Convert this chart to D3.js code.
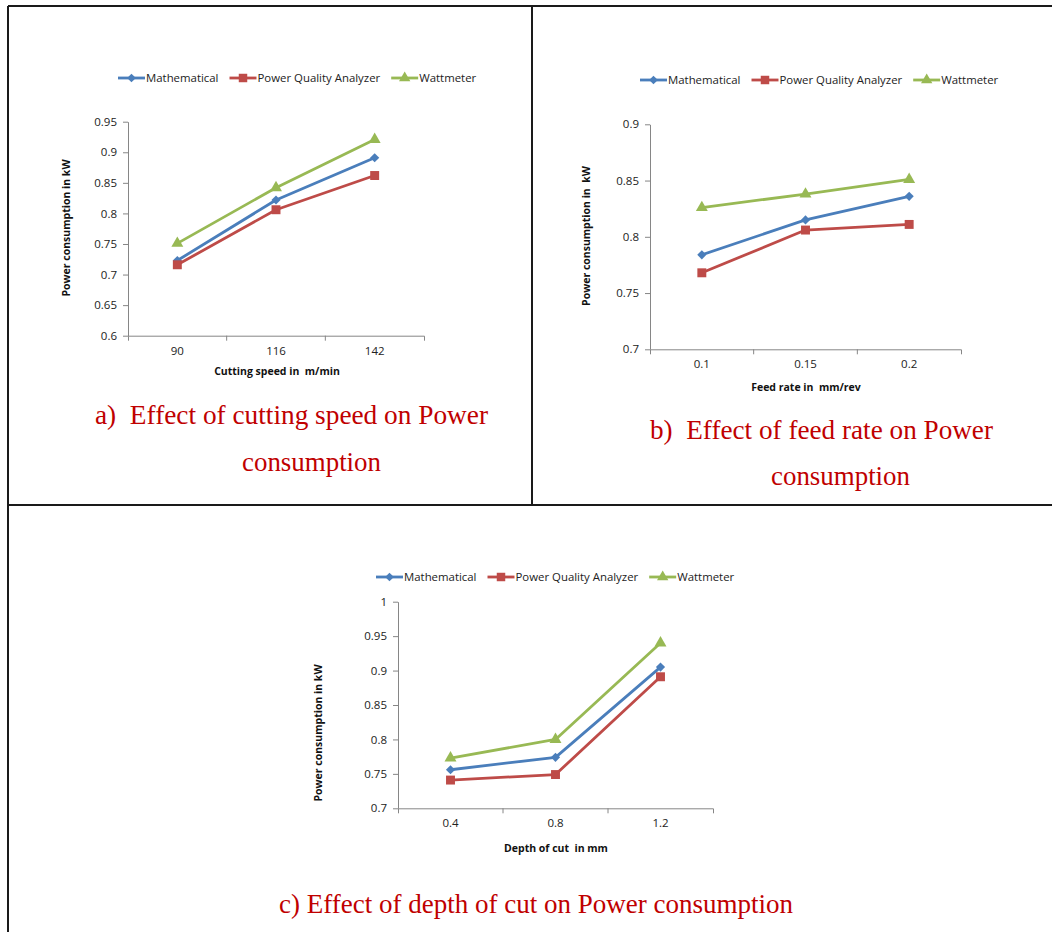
<!DOCTYPE html>
<html><head><meta charset="utf-8">
<script src="https://cdn.jsdelivr.net/npm/d3@7"></script>
<style>
body{margin:0;background:#fff}
text{white-space:pre}
</style>
</head><body>
<svg id="c" width="1052" height="932"></svg>
<script>
// ---------- data ----------
const seriesNames = ["Mathematical", "Power Quality Analyzer", "Wattmeter"];

const speedCats = ["90", "116", "142"];
const speedMath = [0.723, 0.822, 0.891];
const speedPQA  = [0.716, 0.806, 0.862];
const speedWatt = [0.751, 0.842, 0.921];
const speedTicks = [0.6, 0.65, 0.7, 0.75, 0.8, 0.85, 0.9, 0.95];

const feedCats = ["0.1", "0.15", "0.2"];
const feedMath = [0.784, 0.815, 0.836];
const feedPQA  = [0.768, 0.806, 0.811];
const feedWatt = [0.826, 0.838, 0.851];
const feedTicks = [0.7, 0.75, 0.8, 0.85, 0.9];

const depthCats = ["0.4", "0.8", "1.2"];
const depthMath = [0.756, 0.774, 0.905];
const depthPQA  = [0.741, 0.749, 0.891];
const depthWatt = [0.773, 0.800, 0.940];
const depthTicks = [0.7, 0.75, 0.8, 0.85, 0.9, 0.95, 1];

// ---------- styles ----------
const colors = ["#4A7EBB", "#BE4B48", "#98B954"];
const symbols = [
  {type: d3.symbolSquare, size: 42, rot: 45},
  {type: d3.symbolSquare, size: 80, rot: 0},
  {type: d3.symbolTriangle, size: 62, rot: 0}
];
const axisColor = "#868686";
const txtColor = "#222";
const fontUI = "'Open Sans', 'Liberation Sans', sans-serif";
const fontSerif = "'Liberation Serif', 'Times New Roman', serif";
const titleColor = "#C00000";

const svg = d3.select("#c");

// frame lines
const frame = [
  [8, 6, 1052, 6],
  [8, 6, 8, 932],
  [532, 6, 532, 505],
  [8, 505, 1052, 505]
];
svg.selectAll("line.frame").data(frame).enter().append("line")
  .attr("class", "frame")
  .attr("x1", d => d[0]).attr("y1", d => d[1])
  .attr("x2", d => d[2]).attr("y2", d => d[3])
  .attr("stroke", "#1a1a1a").attr("stroke-width", 2);

function drawChart(o) {
  const g = svg.append("g");
  const x = d3.scaleBand().domain(o.cats).range([o.left, o.right]);
  const y = d3.scaleLinear().domain(o.domain).range([o.bottom, o.top]);

  // y axis
  const ya = g.append("g").attr("transform", `translate(${o.left},0)`)
    .call(d3.axisLeft(y).tickValues(o.ticks).tickFormat(d => String(d))
      .tickSize(5).tickPadding(6).tickSizeOuter(0));
  // x axis
  const xa = g.append("g").attr("transform", `translate(0,${o.bottom})`)
    .call(d3.axisBottom(x).tickSize(0).tickPadding(11).tickSizeOuter(5));
  const bounds = o.cats.slice(1).map(c => x(c));
  xa.selectAll("line.bt").data(bounds).enter().append("line")
    .attr("class", "bt").attr("x1", d => d).attr("x2", d => d)
    .attr("y1", 0).attr("y2", 5);
  [ya, xa].forEach(a => {
    a.selectAll("path,line").attr("stroke", axisColor).attr("stroke-width", 1);
    a.selectAll("text").attr("font-family", fontUI).attr("font-size", 11.5)
      .attr("fill", txtColor);
  });

  // axis titles
  g.append("text").attr("x", o.xTitlePos[0]).attr("y", o.xTitlePos[1])
    .attr("text-anchor", "middle").attr("font-family", fontUI)
    .attr("font-weight", "bold").attr("font-size", 10.5).attr("fill", "#111")
    .text(o.xTitle);
  g.append("text")
    .attr("transform", `translate(${o.yTitlePos[0]},${o.yTitlePos[1]}) rotate(-90)`)
    .attr("text-anchor", "middle").attr("font-family", fontUI)
    .attr("font-weight", "bold").attr("font-size", 10.5).attr("fill", "#111")
    .text(o.yTitle);

  // series
  const line = d3.line()
    .x((d, i) => x(o.cats[i]) + x.bandwidth() / 2)
    .y(d => y(d));
  o.series.forEach((vals, si) => {
    g.append("path").datum(vals).attr("d", line)
      .attr("fill", "none").attr("stroke", colors[si]).attr("stroke-width", 2.8)
      .attr("stroke-linejoin", "round");
    g.selectAll(null).data(vals).enter().append("path")
      .attr("d", d3.symbol().type(symbols[si].type).size(symbols[si].size))
      .attr("transform", (d, i) =>
        `translate(${x(o.cats[i]) + x.bandwidth() / 2},${y(d)}) rotate(${symbols[si].rot})`)
      .attr("fill", colors[si]);
  });

  // legend
  let lx = o.legend[0];
  const ly = o.legend[1];
  seriesNames.forEach((name, si) => {
    const lg = g.append("g");
    lg.append("line").attr("x1", lx).attr("x2", lx + 27).attr("y1", ly).attr("y2", ly)
      .attr("stroke", colors[si]).attr("stroke-width", 2.8);
    lg.append("path")
      .attr("d", d3.symbol().type(symbols[si].type).size(symbols[si].size * 0.9))
      .attr("transform", `translate(${lx + 13.5},${ly}) rotate(${symbols[si].rot})`)
      .attr("fill", colors[si]);
    const t = lg.append("text").attr("x", lx + 28).attr("y", ly + 4)
      .attr("font-family", fontUI).attr("font-size", 11.4).attr("fill", txtColor)
      .text(name);
    lx += 28 + t.node().getComputedTextLength() + 11;
  });

  // caption lines
  o.caption.forEach(c => {
    g.append("text").attr("x", c.x).attr("y", c.y)
      .attr("font-family", fontSerif).attr("font-size", 28).attr("fill", titleColor)
      .attr("textLength", c.w).attr("lengthAdjust", "spacingAndGlyphs")
      .text(c.t);
  });
}

drawChart({
  cats: speedCats, series: [speedMath, speedPQA, speedWatt], ticks: speedTicks,
  domain: [0.6, 0.95], left: 128, right: 424, top: 121.7, bottom: 335.7,
  xTitle: "Cutting speed in  m/min", xTitlePos: [277, 375],
  yTitle: "Power consumption in kW", yTitlePos: [70, 228],
  legend: [118, 78],
  caption: [
    {t: "a)  Effect of cutting speed on Power", x: 95, y: 424, w: 393},
    {t: "consumption", x: 242, y: 471, w: 139}
  ]
});

drawChart({
  cats: feedCats, series: [feedMath, feedPQA, feedWatt], ticks: feedTicks,
  domain: [0.7, 0.9], left: 650, right: 961, top: 124.3, bottom: 349.3,
  xTitle: "Feed rate in  mm/rev", xTitlePos: [806, 391],
  yTitle: "Power consumption in  kW", yTitlePos: [590, 236],
  legend: [640, 80],
  caption: [
    {t: "b)  Effect of feed rate on Power", x: 650, y: 439, w: 343},
    {t: "consumption", x: 771, y: 485, w: 139}
  ]
});

drawChart({
  cats: depthCats, series: [depthMath, depthPQA, depthWatt], ticks: depthTicks,
  domain: [0.7, 1.0], left: 398, right: 713, top: 601.7, bottom: 808.3,
  xTitle: "Depth of cut  in mm", xTitlePos: [556, 852],
  yTitle: "Power consumption in kW", yTitlePos: [322, 733],
  legend: [376, 577],
  caption: [
    {t: "c) Effect of depth of cut on Power consumption", x: 279, y: 913, w: 514}
  ]
});
</script>
</body></html>
